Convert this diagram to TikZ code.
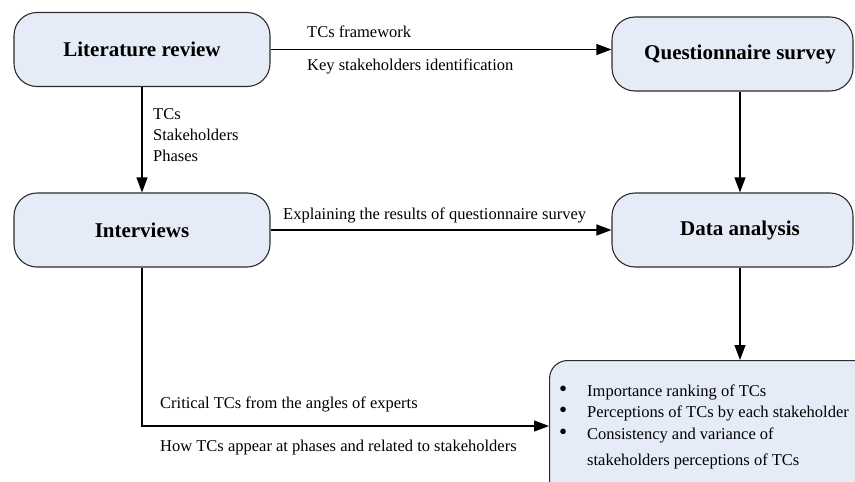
\documentclass[tikz,border=0pt]{standalone}
\usepackage{fontspec}
\setmainfont{Liberation Serif}
\usetikzlibrary{positioning,arrows.meta}
\definecolor{boxfill}{RGB}{230,236,247}
\definecolor{boxline}{RGB}{45,45,45}
\tikzset{
  stage/.style={draw=boxline, fill=boxfill, rounded corners=23pt, line width=1.1pt,
                minimum width=256pt, minimum height=74pt, inner sep=0pt,
                font=\fontsize{21}{25}\selectfont\bfseries},
  flow/.style={-{Triangle[length=15pt,width=11pt]}, line width=1.1pt, draw=black},
  flowlbl/.style={font=\fontsize{16.5}{21}\selectfont, inner sep=0pt, anchor=west, align=left},
}
\newcommand{\resbul}{\makebox[28pt][l]{\scalebox{1.4}{\textbullet}}}

\begin{document}
\begin{tikzpicture}[x=1pt, y=-1pt]
  \useasboundingbox (0,0) rectangle (855,482);
  \clip (0,0) rectangle (855,482);

  \node[stage] (lit) at (142,49.5) {Literature review};
  \node[stage, minimum width=241pt] (qs) at (732.5,54) {\hspace*{15pt}Questionnaire survey};
  \node[stage] (intv) at (142,230) {Interviews};
  \node[stage, minimum width=241pt] (da) at (732.5,230) {\hspace*{15pt}Data analysis};
  \node[stage, anchor=north west, minimum width=330pt, minimum height=150pt,
        rounded corners=18pt] (res) at (549,360) {};

  \coordinate (colx) at (740,0);
  \coordinate (bend) at (142,426);

  % arrows
  \draw[flow] (lit.east) -- (lit.east -| qs.west);
  \draw[flow] (lit.south) -- (intv.north);
  \draw[flow] (intv.east) -- (intv.east -| da.west);
  \draw[flow] (qs.south -| colx) -- (da.north -| colx);
  \draw[flow] (da.south -| colx) -- (res.north -| colx);
  \draw[flow] (intv.south) -- (bend) -- (bend -| res.west);

  % connector labels
  \node[flowlbl] (lblfw) at (307,32) {TCs framework};
  \node[flowlbl] (lblks) at (307,66) {Key stakeholders identification};
  \node[flowlbl, anchor=north west] (lbltcs) at (153,108) {TCs\\Stakeholders\\Phases};
  \node[flowlbl] (lblex) at (283,215) {Explaining the results of questionnaire survey};
  \node[flowlbl] (lblcr) at (160,404) {Critical TCs from the angles of experts};
  \node[flowlbl] (lblhow) at (160,448) {How TCs appear at phases and related to stakeholders};

  % results
  \node[flowlbl] (res1) at (559,392) {\resbul Importance ranking of TCs};
  \node[flowlbl] (res2) at (559,413) {\resbul Perceptions of TCs by each stakeholder};
  \node[flowlbl] (res3) at (559,435) {\resbul Consistency and variance of};
  \node[flowlbl] (res4) at (587,461) {stakeholders perceptions of TCs};
\end{tikzpicture}
\end{document}
